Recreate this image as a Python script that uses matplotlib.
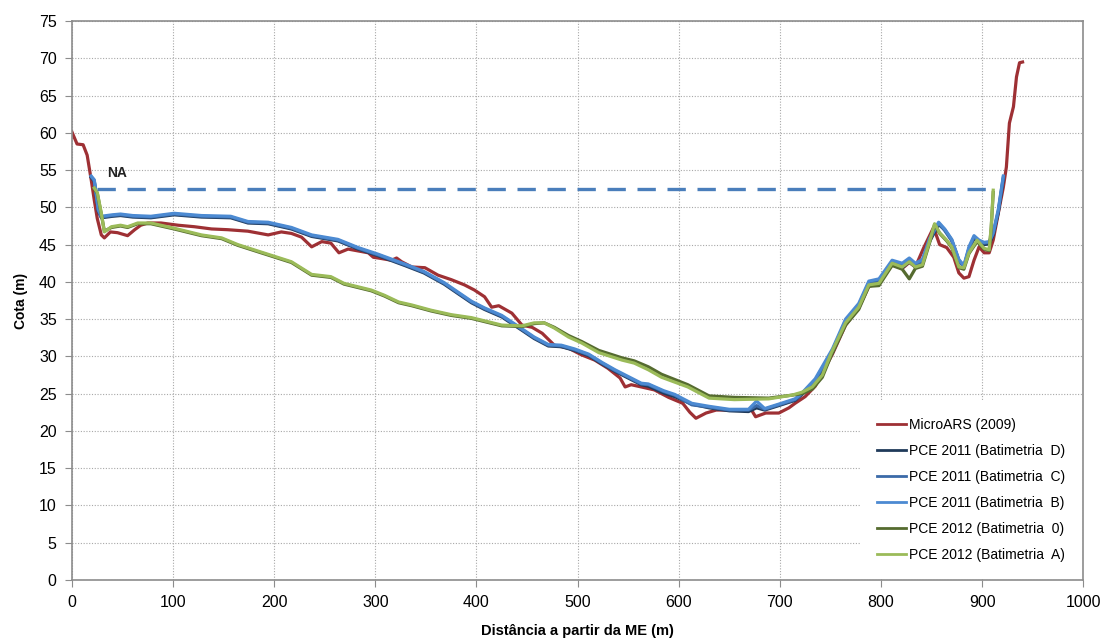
import matplotlib
matplotlib.use("Agg")
import matplotlib.pyplot as plt

plt.rcParams['font.family'] = ['Liberation Sans', 'DejaVu Sans']

# MicroARS (2009)
x_ars = [0, 5, 11, 15, 19, 22, 25, 29, 32, 38, 45, 55, 62, 68, 75, 88, 105, 121, 138, 154,
         174, 194, 207, 217, 227, 237, 247, 256, 264, 273, 293, 298, 303, 316, 321, 326, 336, 349, 362, 375,
         388, 398, 408, 415, 422, 435, 445, 455, 465, 477, 491, 504, 517, 530, 542, 547, 553, 563, 576, 590,
         604, 611, 617, 627, 637, 650, 662, 672, 676, 686, 699, 709, 715, 725, 735, 752, 765, 778, 788, 798,
         811, 821, 828, 834, 842, 852, 858, 865, 872, 877, 882, 887, 892, 897, 902, 907, 911, 916, 921, 924,
         927, 931, 934, 937, 940]
y_ars = [60.1, 58.5, 58.4, 57.0, 53.7, 51.0, 48.5, 46.3, 45.9, 46.7, 46.6, 46.2, 47.0, 47.6, 47.9, 47.9, 47.6, 47.4, 47.1, 47.0,
         46.8, 46.3, 46.7, 46.5, 46.0, 44.7, 45.4, 45.2, 43.9, 44.4, 43.9, 43.3, 43.2, 42.9, 43.2, 42.7, 42.0, 41.9, 40.9, 40.3,
         39.6, 38.9, 38.0, 36.6, 36.8, 35.8, 34.2, 33.9, 33.1, 31.5, 31.1, 30.2, 29.5, 28.4, 27.1, 25.9, 26.2, 25.9, 25.5, 24.5,
         23.7, 22.5, 21.7, 22.4, 22.8, 22.8, 22.8, 22.8, 21.9, 22.4, 22.4, 23.1, 23.7, 24.6, 26.0, 30.3, 34.2, 36.5, 39.4, 39.8,
         42.3, 41.8, 42.6, 42.0, 44.5, 47.3, 45.0, 44.6, 43.3, 41.2, 40.5, 40.7, 42.9, 44.7, 43.9, 43.9, 45.6, 49.2, 52.7, 55.4,
         61.3, 63.5, 67.5, 69.4, 69.5]

# PCE 2011 (Batimetrias D, C, B)
x_2011 = [19, 22, 26, 29, 40, 48, 60, 78, 101, 128, 157, 174, 194, 217, 237, 263, 283, 303, 329, 348,
          368, 382, 395, 408, 425, 445, 457, 471, 484, 497, 511, 524, 537, 550, 563, 570, 585, 596, 613, 630,
          650, 669, 677, 685, 699, 715, 722, 735, 752, 765, 778, 788, 798, 811, 821, 828, 834, 841, 848, 857,
          863, 870, 877, 882, 887, 892, 897, 902, 907, 911, 916, 921]
y_2011_d = [54.0, 53.5, 49.5, 48.6, 48.8, 48.9, 48.7, 48.6, 49.0, 48.7, 48.6, 47.9, 47.8, 47.1, 46.1, 45.5, 44.4, 43.5, 42.2, 41.2,
            39.7, 38.4, 37.2, 36.3, 35.3, 33.5, 32.4, 31.4, 31.3, 30.8, 30.1, 29.0, 28.0, 27.1, 26.2, 26.0, 25.1, 24.6, 23.6, 23.1,
            22.7, 22.6, 23.1, 22.8, 23.4, 24.1, 24.9, 26.6, 30.5, 34.5, 36.6, 39.6, 39.9, 42.4, 41.9, 42.7, 42.0, 42.6, 45.4, 47.7,
            47.0, 45.6, 42.9, 42.1, 44.4, 45.8, 45.3, 45.0, 45.1, 46.3, 49.3, 53.8]
y_2011_c = [54.1, 53.6, 49.6, 48.7, 48.9, 49.0, 48.8, 48.7, 49.1, 48.8, 48.7, 48.0, 47.9, 47.2, 46.2, 45.6, 44.5, 43.6, 42.3, 41.3,
            39.8, 38.5, 37.3, 36.4, 35.4, 33.6, 32.5, 31.5, 31.4, 30.9, 30.2, 29.1, 28.1, 27.2, 26.3, 26.2, 25.3, 24.8, 23.5, 23.2,
            22.8, 22.8, 23.4, 22.9, 23.5, 24.2, 25.0, 26.8, 30.8, 34.8, 36.9, 39.9, 40.2, 42.7, 42.3, 43.0, 42.3, 42.8, 45.6, 47.9,
            46.9, 45.5, 42.8, 42.0, 44.5, 46.0, 45.5, 45.2, 45.3, 46.5, 49.5, 54.1]
y_2011_b = [54.2, 53.7, 49.7, 48.8, 49.0, 49.1, 48.9, 48.8, 49.2, 48.9, 48.8, 48.1, 48.0, 47.3, 46.3, 45.7, 44.6, 43.7, 42.4, 41.4,
            39.9, 38.6, 37.4, 36.5, 35.5, 33.7, 32.6, 31.6, 31.5, 31.0, 30.3, 29.2, 28.2, 27.3, 26.4, 26.3, 25.4, 24.9, 23.7, 23.3,
            22.9, 22.9, 24.0, 23.0, 23.6, 24.3, 25.1, 27.0, 31.0, 35.0, 37.1, 40.1, 40.4, 42.9, 42.5, 43.2, 42.5, 43.0, 45.8, 48.0,
            47.1, 45.7, 43.0, 42.2, 44.7, 46.2, 45.6, 45.3, 45.4, 46.6, 49.7, 54.2]

# PCE 2012 (Batimetrias 0, A)
x_2012 = [22, 25, 29, 32, 39, 48, 55, 65, 78, 101, 128, 148, 164, 187, 217, 237, 256, 269, 296, 309,
          323, 336, 355, 375, 395, 425, 445, 457, 467, 477, 491, 504, 521, 544, 556, 570, 583, 609, 630, 655,
          689, 712, 722, 732, 742, 751, 765, 778, 788, 798, 811, 821, 828, 834, 841, 848, 853, 858, 865, 870,
          877, 882, 887, 895, 902, 907, 909, 911]
y_2012_0 = [52.5, 51.9, 49.1, 46.8, 47.3, 47.5, 47.3, 47.8, 47.8, 47.1, 46.2, 45.8, 44.9, 43.9, 42.6, 40.9, 40.6, 39.7, 38.8, 38.1,
            37.2, 36.8, 36.1, 35.5, 35.1, 34.1, 34.0, 34.4, 34.5, 33.9, 32.8, 32.0, 30.8, 29.8, 29.4, 28.6, 27.6, 26.2, 24.7, 24.5,
            24.4, 24.8, 25.0, 25.6, 27.2, 30.2, 34.2, 36.3, 39.4, 39.5, 42.2, 41.7, 40.4, 41.8, 42.1, 45.2, 47.7, 46.5, 45.5, 44.6,
            41.9, 41.7, 43.8, 45.4, 44.4, 44.2, 47.2, 52.0]
y_2012_a = [52.6, 52.0, 49.2, 46.7, 47.4, 47.6, 47.4, 47.9, 47.9, 47.2, 46.3, 45.9, 45.0, 44.0, 42.7, 41.0, 40.7, 39.8, 38.9, 38.2,
            37.3, 36.9, 36.2, 35.6, 35.2, 34.2, 34.1, 34.5, 34.5, 33.8, 32.6, 31.8, 30.5, 29.5, 29.1, 28.2, 27.2, 25.9, 24.4, 24.2,
            24.3, 24.8, 25.2, 25.9, 27.5, 30.5, 34.5, 36.6, 39.6, 39.8, 42.5, 42.0, 42.7, 42.0, 42.3, 45.4, 47.8, 46.6, 45.6, 44.7,
            42.0, 41.9, 43.9, 45.6, 44.5, 44.3, 47.4, 52.3]

# nivel de agua
na_x = [25, 905]
na_y = [52.4, 52.4]

fig = plt.figure(figsize=(11.11, 6.41), dpi=100)
ax = fig.add_axes([0.0648, 0.0952, 0.9102, 0.872])

lw = 2.3
ax.plot(x_ars, y_ars, color='#9e3034', lw=lw, label='MicroARS (2009)')
ax.plot(x_2011, y_2011_d, color='#1f3a5a', lw=lw, label='PCE 2011 (Batimetria  D)')
ax.plot(x_2011, y_2011_c, color='#3b6aa8', lw=lw, label='PCE 2011 (Batimetria  C)')
ax.plot(x_2011, y_2011_b, color='#4c8ad2', lw=lw, label='PCE 2011 (Batimetria  B)')
ax.plot(x_2012, y_2012_0, color='#556b2f', lw=lw, label='PCE 2012 (Batimetria  0)')
ax.plot(x_2012, y_2012_a, color='#9bbb59', lw=lw, label='PCE 2012 (Batimetria  A)')
ax.plot(na_x, na_y, color='#4a7ebb', lw=2.4, dashes=(5.5, 3.5))
ax.text(35, 54.6, 'NA', fontsize=10, fontweight='bold', color='#222222', va='center')

ax.set_xlim(0, 1000)
ax.set_ylim(0, 75)
ax.set_xticks(range(0, 1001, 100))
ax.set_yticks(range(0, 76, 5))
ax.grid(True, color='#a8a8a8', linestyle=(0, (1, 1.5)), linewidth=0.8)
ax.set_axisbelow(True)
for s in ax.spines.values():
    s.set_color('#8c8c8c')
    s.set_linewidth(1.2)
ax.tick_params(direction='out', length=5, color='#8c8c8c', labelsize=11.5, pad=6)

ax.set_xlabel('Distância a partir da ME (m)', fontsize=10.5, fontweight='bold', labelpad=10)
ax.set_ylabel('Cota (m)', fontsize=10, fontweight='bold', labelpad=8)

leg = ax.legend(loc='lower right', fontsize=10, frameon=True, fancybox=False,
                handlelength=2.1, handletextpad=0.2, labelspacing=0.87,
                borderaxespad=0.1, borderpad=1.2)
leg.get_frame().set_facecolor('white')
leg.get_frame().set_edgecolor('none')
leg.get_frame().set_alpha(1)
for h in leg.get_lines():
    h.set_linewidth(2)

fig.savefig('out.png', dpi=100)
